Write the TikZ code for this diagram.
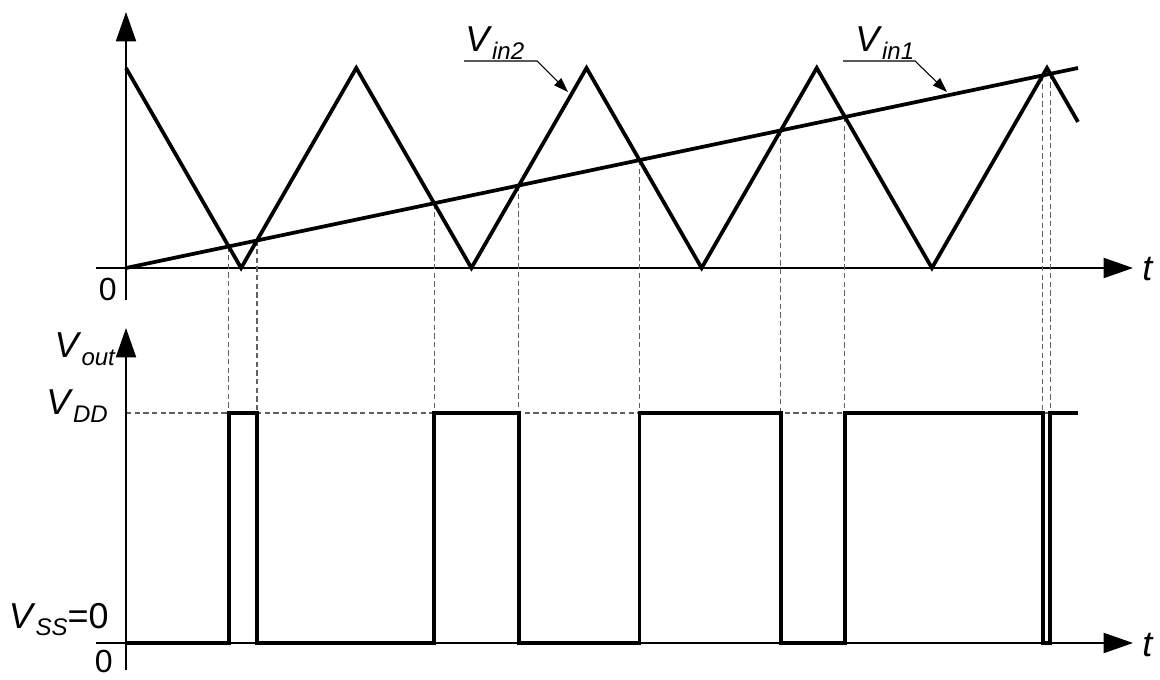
\documentclass[tikz,border=0pt]{standalone}
\usepackage{fontspec}
\setmainfont{Liberation Sans}
\usetikzlibrary{arrows.meta}
\newcommand{\Vsub}[2]{\textit{#1}\raisebox{-0.2em}{\fontsize{18}{20}\selectfont\textit{#2}}}
\begin{document}
\begin{tikzpicture}[x=0.75pt,y=-0.75pt,
  axis/.style={line width=1.5pt,-{Triangle[length=22pt,width=15pt]}},
  wave/.style={line width=2.8pt,line join=miter,miter limit=20},
  guide/.style={gray!75!black,line width=0.8pt,dash pattern=on 4pt off 2.5pt},
  leader/.style={line width=0.8pt,-{Triangle[length=11pt,width=7.5pt]}},
  lbl/.style={inner sep=0pt,font=\fontsize{27}{32}\selectfont},
  num/.style={inner sep=0pt,font=\fontsize{24}{28}\selectfont}]
\useasboundingbox (0,0) rectangle (1160,680);
% ---------- top plot ----------
\coordinate (o1) at (126,268);
\draw[axis] (126,300) -- (126,12);
\draw[axis] (96,268) -- (1133,268);
\node[num,anchor=base east] (z1) at (117,301) {0};
\node[lbl,anchor=base west] (t1) at (1142,281) {\textit{t}};
% guides
\draw[guide] (126,413) -- (1078,413);
\foreach \x/\y in {228.7/246.4,257.0/240.5,434.1/203.3,518.9/185.5,639.5/160.1,780.8/130.4,844.9/117.0,1042.7/75.4,1050.3/73.8}
  \draw[guide] (\x,\y) -- (\x,413);
% triangle wave Vin2
\draw[wave] (126,68) -- (241.1,268) -- (356.25,68) -- (471.4,268) -- (586.5,68) -- (701.6,268) -- (816.75,68) -- (931.9,268) -- (1047,68) -- (1078,121.9);
% ramp Vin1
\draw[wave] (o1) -- (1078,68);
% labels
\node[lbl,anchor=base west] (vin2) at (465,52) {\Vsub{V}{in2}};
\node[lbl,anchor=base west] (vin1) at (855,52) {\Vsub{V}{in1}};
\coordinate (u2a) at (464,61); \coordinate (u2b) at (537,61); \coordinate (a2) at (568,92);
\coordinate (u1a) at (843,61); \coordinate (u1b) at (915,61); \coordinate (a1) at (947,92);
\draw[leader] (u2a) -- (u2b) -- (a2);
\draw[leader] (u1a) -- (u1b) -- (a1);
% ---------- bottom plot ----------
\draw[axis] (126,670) -- (126,328);
\draw[axis] (96,643) -- (1133,643);
\node[num,anchor=base east] (z2) at (113,672) {0};
\node[lbl,anchor=base west] (t2) at (1142,656) {\textit{t}};
\node[lbl,anchor=base east] (vout) at (116,358) {\Vsub{V}{out}};
\node[lbl,anchor=base east] (vdd) at (108,415) {\Vsub{V}{DD}};
\node[lbl,anchor=base east] (vss) at (109,628) {\Vsub{V}{SS}=0};
\draw[wave] (126,643) -- (228.7,643) -- (228.7,413) -- (257.0,413) -- (257.0,643)
  -- (434.1,643) -- (434.1,413) -- (518.9,413) -- (518.9,643)
  -- (639.5,643) -- (639.5,413) -- (780.8,413) -- (780.8,643)
  -- (844.9,643) -- (844.9,413) -- (1042.7,413) -- (1042.7,643)
  -- (1050.3,643) -- (1050.3,413) -- (1078,413);
\end{tikzpicture}
\end{document}
